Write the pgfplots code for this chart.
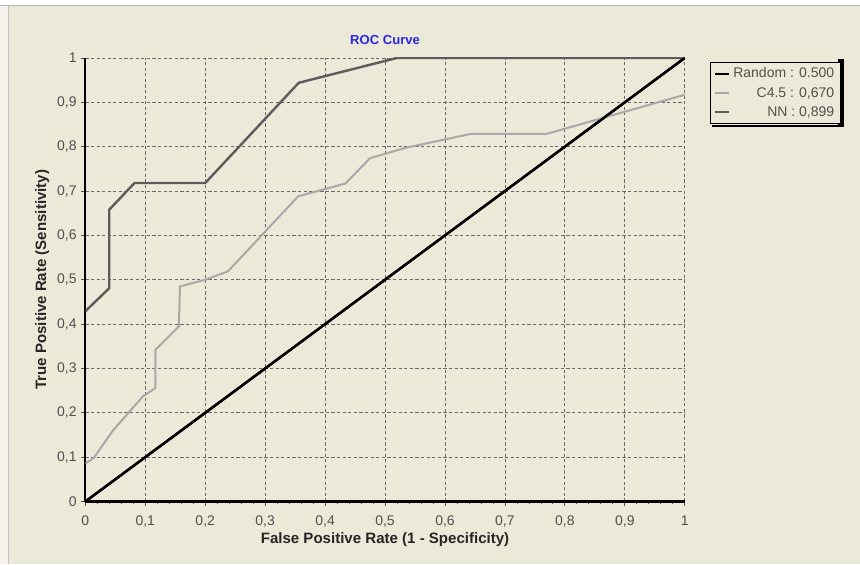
\documentclass[border=0pt]{standalone}
\usepackage{fontspec}
\setmainfont{Liberation Sans}
\usepackage{pgfplots}
\pgfplotsset{compat=1.18}
\usetikzlibrary{backgrounds}
\definecolor{bg}{RGB}{236,233,216}
\definecolor{bgl}{RGB}{246,244,236}
\definecolor{gridc}{RGB}{105,105,105}
\definecolor{nnc}{RGB}{92,92,92}
\definecolor{c45c}{RGB}{168,168,168}
\definecolor{titleblue}{RGB}{40,40,225}
\definecolor{tickc}{RGB}{80,80,80}
\begin{document}
\begin{tikzpicture}
\begin{scope}[on background layer]
\fill[bg] (0pt,0pt) rectangle (645pt,423.75pt);
\fill[white] (0pt,420pt) rectangle (645pt,423.75pt);
\draw[gray!60, line width=0.6pt] (0pt,419.7pt) -- (645pt,419.7pt);
\fill[bgl] (0pt,0pt) rectangle (6pt,419.4pt);
\draw[gray!50, line width=0.6pt] (6pt,0pt) -- (6pt,419.4pt);
\end{scope}
\node[font=\bfseries\fontsize{9.8}{11}\selectfont, text=titleblue] at (288.75pt,393.75pt) {ROC Curve};
\begin{axis}[
  at={(63.75pt,47.25pt)}, anchor=south west,
  width=450pt, height=333pt, scale only axis,
  xmin=0, xmax=1, ymin=0, ymax=1,
  xtick={0,0.1,0.2,0.3,0.4,0.5,0.6,0.7,0.8,0.9,1},
  ytick={0,0.1,0.2,0.3,0.4,0.5,0.6,0.7,0.8,0.9,1},
  minor x tick num=4,
  grid=major,
  major grid style={gridc, line width=0.6pt, dash pattern=on 2.4pt off 1.8pt},
  axis x line*=bottom, axis y line*=left,
  axis line style={line width=1.6pt, black, -},
  tick align=outside, major tick length=3pt, minor tick length=1.8pt,
  tick style={tickc, line width=0.6pt},
  ticklabel style={font=\fontsize{10.5}{12}\selectfont, text=tickc},
  xticklabel style={yshift=-4pt},
  /pgf/number format/use comma,
  /pgf/number format/assume math mode=true,
  xlabel={False Positive Rate (1 - Specificity)},
  ylabel={True Positive Rate (Sensitivity)},
  every axis x label/.style={at={(axis description cs:0.5,-0.0855)}, anchor=center, font=\bfseries\fontsize{11.3}{13}\selectfont, text=black!85},
  every axis y label/.style={at={(axis description cs:-0.0717,0.5)}, rotate=90, anchor=center, font=\bfseries\fontsize{11.3}{13}\selectfont, text=black!85},
  legend style={name=leg, at={(1.0417,0.991)}, anchor=north west, draw=black, line width=0.8pt, fill=bg,
    font=\fontsize{10.5}{12}\selectfont, text=tickc, inner xsep=2.5pt, inner ysep=2pt, row sep=1.5pt},
  legend cell align=right,
  legend image code/.code={\draw[#1] (0pt,0pt) -- (11pt,0pt);},
]
\addplot[black, line width=1.8pt] coordinates {(0,0) (1,1)};
\addlegendentry{Random : 0.500}
\addplot[c45c, line width=1.5pt] coordinates {
(0,0.086) (0.014,0.098) (0.046,0.16) (0.096,0.237) (0.117,0.256) (0.117,0.342)
(0.156,0.395) (0.158,0.485) (0.2,0.5) (0.238,0.519) (0.355,0.688) (0.434,0.717)
(0.475,0.774) (0.533,0.797) (0.644,0.829) (0.77,0.829) (1,0.917)};
\addlegendentry{C4.5 : 0,670}
\addplot[nnc, line width=1.8pt] coordinates {
(0,0.429) (0.04,0.481) (0.04,0.658) (0.082,0.718) (0.2,0.718) (0.356,0.944) (0.52,1) (1,1)};
\addlegendentry{NN : 0,899}
\addplot[black, line width=1.8pt, forget plot] coordinates {(0,0) (1,1)};
\end{axis}
\begin{scope}[on background layer]
\fill[black] ([xshift=-2pt,yshift=2pt]leg.north east) rectangle ([xshift=2.2pt,yshift=-2.2pt]leg.south east);
\fill[black] ([xshift=2pt,yshift=-0.4pt]leg.south west) rectangle ([xshift=2.2pt,yshift=-2.2pt]leg.south east);
\end{scope}
\end{tikzpicture}
\end{document}
